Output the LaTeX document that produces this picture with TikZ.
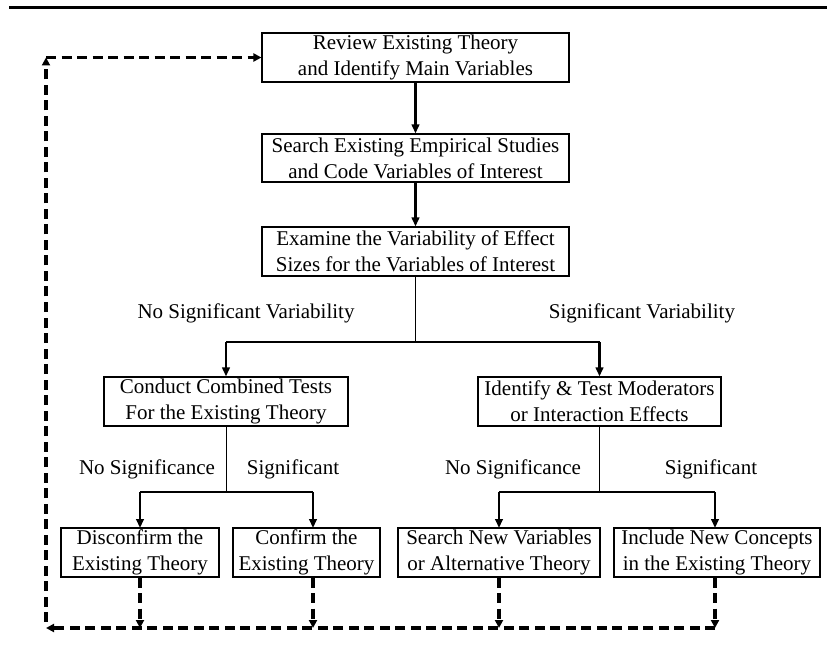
\documentclass[tikz,border=0pt]{standalone}
\usepackage{fontspec}
\setmainfont{Liberation Serif}
\usetikzlibrary{arrows.meta}
\begin{document}
\begin{tikzpicture}[x=1pt,y=-1pt,
  box/.style={draw,line width=1.1pt,align=center,font=\fontsize{21}{26}\selectfont,inner sep=0pt,minimum height=49pt},
  lbl/.style={font=\fontsize{21}{26}\selectfont,inner sep=0pt},
  thin/.style={line width=1pt},
  thk/.style={line width=2.8pt},
  thkarrow/.style={line width=2.8pt,-{Triangle[length=9pt,width=7.5pt]}},
  dasharrow/.style={line width=3.2pt,dash pattern=on 10pt off 5.5pt,-{Triangle[length=8pt,width=8pt]}}]
\useasboundingbox (0,0) rectangle (827,660);
\draw[line width=3pt] (9,7.5) -- (827,7.5);

\node[box,minimum width=307pt] (b1) at (415.5,57.5) {Review Existing Theory\\and Identify Main Variables};
\node[box,minimum width=307pt,minimum height=48pt] (b2) at (415.5,158) {Search Existing Empirical Studies\\and Code Variables of Interest};
\node[box,minimum width=307pt] (b3) at (415.5,251.5) {Examine the Variability of Effect\\Sizes for the Variables of Interest};
\node[box,minimum width=244pt] (b4) at (226,401.5) {Conduct Combined Tests\\For the Existing Theory};
\node[box,minimum width=243pt] (b5) at (599.5,401.5) {Identify \& Test Moderators\\or Interaction Effects};
\node[box,minimum width=158pt] (b6) at (140,552.5) {Disconfirm the\\Existing Theory};
\node[box,minimum width=147pt] (b7) at (306.5,552.5) {Confirm the\\Existing Theory};
\node[box,minimum width=202pt] (b8) at (499,552.5) {Search New Variables\\or Alternative Theory};
\node[box,minimum width=206pt] (b9) at (717,552.5) {Include New Concepts\\in the Existing Theory};

\node[lbl] (l1) at (246,313) {No Significant Variability};
\node[lbl] (l2) at (642,313) {Significant Variability};
\node[lbl] (l3) at (147,469) {No Significance};
\node[lbl] (l4) at (293,469) {Significant};
\node[lbl] (l5) at (513,469) {No Significance};
\node[lbl] (l6) at (711,469) {Significant};

\draw[thkarrow] (b1.south) -- (b2.north);
\draw[thkarrow] (b2.south) -- (b3.north);

% first split
\coordinate (s1) at (415.5,342);
\draw[thin] (b3.south) -- (s1);
\draw[thk] (b4.north |- s1) -- (b5.north |- s1);
\draw[thkarrow] (b4.north |- s1) -- (b4.north);
\draw[thkarrow] (b5.north |- s1) -- (b5.north);

% second split left
\coordinate (s2) at (226,492);
\coordinate (t6) at (140,528);
\coordinate (t7) at (313,528);
\draw[thin] (b4.south) -- (s2);
\draw[thk] (t6 |- s2) -- (t7 |- s2);
\draw[thkarrow] (t6 |- s2) -- (t6);
\draw[thkarrow] (t7 |- s2) -- (t7);

% second split right
\coordinate (s3) at (599.5,492);
\coordinate (t8) at (499,528);
\coordinate (t9) at (715,528);
\draw[thin] (b5.south) -- (s3);
\draw[thk] (t8 |- s3) -- (t9 |- s3);
\draw[thkarrow] (t8 |- s3) -- (t8);
\draw[thkarrow] (t9 |- s3) -- (t9);

% feedback loop
\coordinate (bl) at (46,628);
\coordinate (tl) at (46,57.5);
\coordinate (lstart) at (46,622);
\draw[dasharrow] (b6.south -| t6) -- (t6 |- bl);
\draw[dasharrow] (b7.south -| t7) -- (t7 |- bl);
\draw[dasharrow] (b8.south -| t8) -- (t8 |- bl);
\draw[dasharrow] (b9.south -| t9) -- (t9 |- bl);
\draw[dasharrow] (t9 |- bl) -- (bl);
\draw[dasharrow] (lstart) -- (tl);
\draw[dasharrow] (tl) -- (b1.west);
\end{tikzpicture}
\end{document}
